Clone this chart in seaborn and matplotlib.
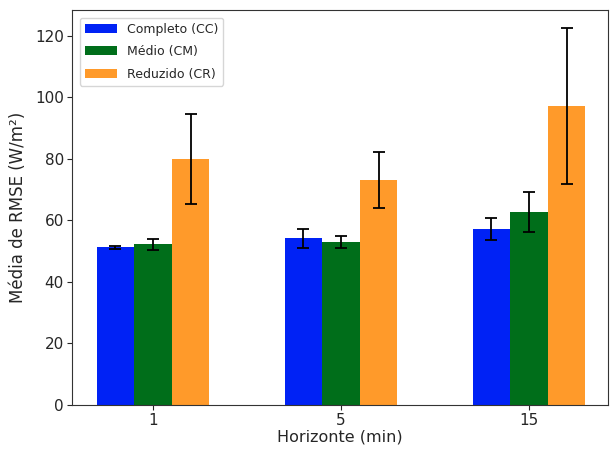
import numpy as np
import pandas as pd
import matplotlib
matplotlib.use("Agg")
import matplotlib.pyplot as plt
import seaborn as sns

horizons = ["1", "5", "15"]
series = ["Completo (CC)", "Médio (CM)", "Reduzido (CR)"]
means_cc = [51.3, 54.2, 57.3]
means_cm = [52.2, 53.0, 62.8]
means_cr = [79.9, 73.2, 97.2]
err_cc = [0.5, 3.1, 3.6]
err_cm = [1.7, 1.9, 6.5]
err_cr = [14.6, 9.1, 25.2]
colors = ["#0022f5", "#006e1a", "#ff9a2a"]

sns.set_style("ticks")
plt.rcParams["font.family"] = ["DejaVu Sans"]

rows = []
for s, m, e in zip(series, [means_cc, means_cm, means_cr], [err_cc, err_cm, err_cr]):
    for h, mv, ev in zip(horizons, m, e):
        rows.append({"Horizonte": h, "Modelo": s, "RMSE": mv, "err": ev})
df = pd.DataFrame(rows)

fig = plt.figure(figsize=(6.11, 4.5), dpi=100)
ax = fig.add_axes([0.118, 0.1, 0.877, 0.877])

sns.barplot(data=df, x="Horizonte", y="RMSE", hue="Modelo", order=horizons,
            hue_order=series, palette=colors, width=0.6, gap=0, errorbar=None,
            saturation=1, linewidth=0, ax=ax)

for container, s in zip(ax.containers, series):
    sub = df[df["Modelo"] == s].set_index("Horizonte").loc[horizons]
    xs = [b.get_x() + b.get_width() / 2 for b in container]
    ax.errorbar(xs, sub["RMSE"].values, yerr=sub["err"].values, fmt="none",
                ecolor="black", elinewidth=1.3, capsize=4, capthick=1.3)

ax.set_xlim(-0.43, 2.42)
ax.set_ylim(0, 128.3)
ax.set_xlabel("Horizonte (min)", fontsize=11.5, labelpad=1)
ax.set_ylabel("Média de RMSE (W/m²)", fontsize=12, labelpad=6)
ax.tick_params(labelsize=11, pad=2.5)
for sp in ax.spines.values():
    sp.set_color("#333333")
leg = ax.legend(loc="upper left", fontsize=9, title=None, frameon=True,
                labelspacing=0.75, handlelength=2.6, borderaxespad=0.6)
fig.savefig("out.png", dpi=100)
